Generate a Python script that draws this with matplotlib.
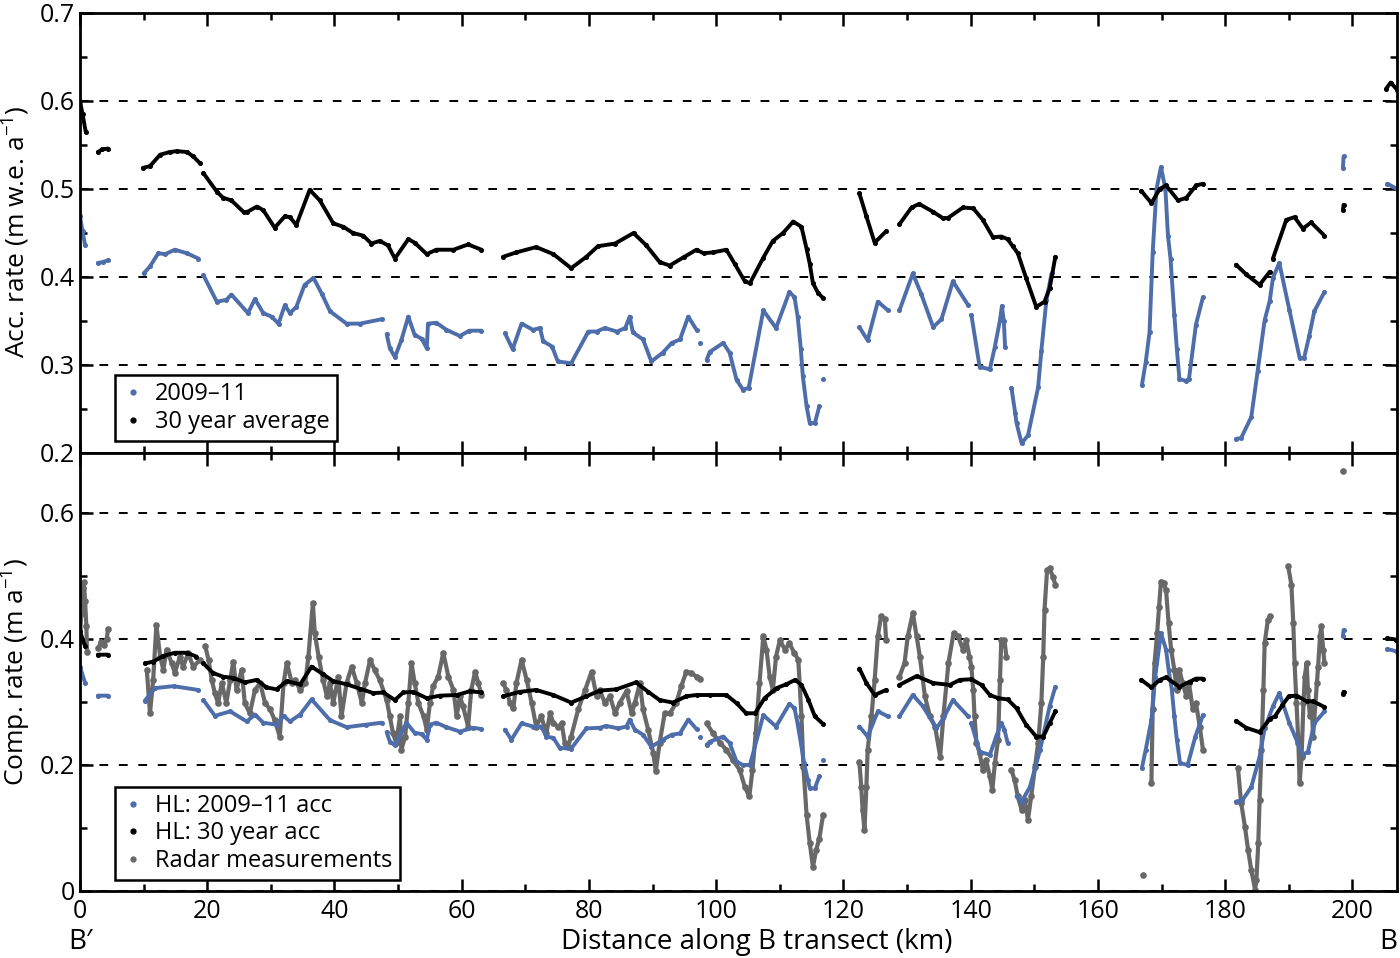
import numpy as np
import matplotlib
matplotlib.use("Agg")
import matplotlib.pyplot as plt
from matplotlib.ticker import MultipleLocator, FuncFormatter
from matplotlib.lines import Line2D

plt.rcParams['font.family'] = ['Open Sans', 'DejaVu Sans']
plt.rcParams['mathtext.fontset'] = 'custom'
plt.rcParams['mathtext.rm'] = 'Open Sans'
plt.rcParams['mathtext.it'] = 'Open Sans'

# ------------------------------------------------------------
# data: each series is a list of segments (x km, value)

acc_0911 = [
    [(0, 0.469), (0.4, 0.452), (0.8, 0.436)],
    [(2.8, 0.416), (3.6, 0.417), (4.4, 0.419)],
    [(10.0, 0.404), (11.0, 0.412), (12.3, 0.427), (13.4, 0.426), (14.9, 0.431), (16.8, 0.427), (18.6, 0.421)],
    [(19.4, 0.402), (21.5, 0.372), (23.0, 0.374), (23.8, 0.380), (26.4, 0.359), (27.5, 0.375), (28.8, 0.359),
     (30.1, 0.355), (31.2, 0.347), (32.2, 0.368), (33.0, 0.359), (34.0, 0.366), (35.3, 0.391), (36.7, 0.399),
     (38.0, 0.381), (39.3, 0.361), (41.9, 0.347), (44.0, 0.347), (47.4, 0.352)],
    [(48.2, 0.335), (48.7, 0.319), (49.5, 0.309), (50.5, 0.328), (51.6, 0.355), (52.6, 0.334), (53.7, 0.330),
     (54.5, 0.319), (54.7, 0.347), (56.0, 0.348), (57.6, 0.340), (59.7, 0.333), (61.2, 0.339), (63.1, 0.339)],
    [(66.8, 0.336), (68.0, 0.318), (69.4, 0.347), (71.2, 0.340), (72.3, 0.342), (72.8, 0.327), (74.2, 0.321),
     (75.1, 0.304), (77.2, 0.302), (79.9, 0.338), (81.2, 0.338), (82.5, 0.342), (84.4, 0.338), (85.7, 0.342),
     (86.4, 0.355), (86.9, 0.337), (88.5, 0.329), (89.8, 0.304), (91.6, 0.314), (93.0, 0.325), (94.3, 0.329),
     (95.6, 0.355), (96.9, 0.340)],
    [(97.4, 0.325)],
    [(98.5, 0.306), (99.0, 0.315), (101.1, 0.325), (102.1, 0.314), (103.2, 0.283), (104.2, 0.272),
     (105.1, 0.274), (107.4, 0.362), (109.4, 0.342), (111.5, 0.383), (112.3, 0.377), (112.8, 0.355),
     (113.3, 0.318), (113.6, 0.288), (114.2, 0.253), (114.7, 0.234), (115.5, 0.234), (116.2, 0.253)],
    [(116.8, 0.284)],
    [(122.5, 0.343), (123.8, 0.328), (125.4, 0.372), (127.0, 0.362)],
    [(128.8, 0.362), (130.9, 0.404), (132.2, 0.381), (134.1, 0.343), (135.4, 0.352), (137.2, 0.395), (139.6, 0.368)],
    [(140.1, 0.357), (141.4, 0.298), (143.0, 0.295), (143.8, 0.321), (144.6, 0.351), (144.9, 0.367),
     (145.2, 0.350), (145.4, 0.321)],
    [(146.4, 0.274), (147.0, 0.245), (147.2, 0.234), (148.0, 0.211), (149.0, 0.220), (150.6, 0.275),
     (151.1, 0.316), (151.9, 0.374), (152.7, 0.404)],
    [(166.9, 0.277), (167.5, 0.303), (168.1, 0.337), (168.6, 0.428), (169.2, 0.500), (169.9, 0.525),
     (170.6, 0.500), (171.0, 0.447), (171.4, 0.421), (172.0, 0.357), (172.4, 0.318), (172.8, 0.284),
     (173.8, 0.282), (174.3, 0.284), (175.4, 0.346), (176.5, 0.377)],
    [(181.7, 0.216), (182.5, 0.217), (184.1, 0.241), (185.1, 0.293), (186.2, 0.351), (187.0, 0.373),
     (187.5, 0.399), (188.5, 0.416), (190.1, 0.362), (191.7, 0.308), (192.4, 0.308), (193.2, 0.333),
     (194.0, 0.361), (195.6, 0.383)],
    [(198.5, 0.524), (198.6, 0.537)],
    [(205.5, 0.506), (207.0, 0.500)],
]

acc_30yr = [
    [(0, 0.600), (0.4, 0.585), (0.9, 0.565)],
    [(2.8, 0.542), (3.5, 0.545), (4.4, 0.546)],
    [(9.9, 0.524), (11.0, 0.526), (12.6, 0.539), (14.1, 0.542), (15.2, 0.543), (16.8, 0.542), (17.8, 0.537), (18.9, 0.529)],
    [(19.4, 0.518), (21.5, 0.497), (22.5, 0.490), (23.8, 0.487), (25.7, 0.474), (26.3, 0.474), (27.8, 0.480),
     (28.8, 0.476), (30.6, 0.456), (32.2, 0.469), (33.0, 0.468), (34.0, 0.459), (36.1, 0.499), (37.7, 0.487),
     (39.8, 0.461), (41.4, 0.457), (42.9, 0.450), (44.5, 0.447), (45.8, 0.438), (47.1, 0.441), (48.4, 0.436),
     (49.5, 0.421), (51.6, 0.443), (52.6, 0.439), (54.5, 0.426), (56.0, 0.431), (58.7, 0.431), (61.0, 0.437),
     (63.1, 0.431)],
    [(66.5, 0.423), (68.6, 0.428), (71.7, 0.434), (74.4, 0.426), (77.2, 0.410), (79.6, 0.423), (81.4, 0.435),
     (84.1, 0.438), (87.0, 0.450), (89.0, 0.436), (91.1, 0.417), (92.7, 0.413), (95.0, 0.423), (96.9, 0.431),
     (98.0, 0.427), (99.5, 0.428), (101.6, 0.431), (102.9, 0.415), (104.5, 0.395), (105.3, 0.393),
     (107.4, 0.422), (108.9, 0.441), (110.5, 0.450), (112.1, 0.463), (113.4, 0.457), (114.2, 0.432),
     (114.7, 0.415), (115.2, 0.393), (116.0, 0.382), (116.8, 0.376)],
    [(122.5, 0.495), (123.6, 0.469), (124.9, 0.439), (126.7, 0.452)],
    [(128.8, 0.460), (130.7, 0.479), (131.9, 0.483), (134.1, 0.474), (135.6, 0.467), (136.4, 0.467),
     (138.8, 0.479), (140.4, 0.478), (141.9, 0.465), (143.5, 0.445), (144.8, 0.446), (145.8, 0.443),
     (146.6, 0.435), (147.4, 0.427), (148.7, 0.399), (150.3, 0.366), (151.6, 0.372), (152.4, 0.387), (153.3, 0.423)],
    [(166.8, 0.498), (168.4, 0.484), (169.7, 0.500), (170.7, 0.504), (172.6, 0.487), (173.9, 0.490),
     (175.4, 0.504), (176.5, 0.506)],
    [(181.7, 0.414), (183.3, 0.403), (185.4, 0.391), (187.0, 0.406)],
    [(187.5, 0.421), (189.6, 0.465), (190.9, 0.468), (192.2, 0.455), (193.5, 0.462), (195.6, 0.447)],
    [(198.5, 0.476), (198.6, 0.482)],
    [(205.3, 0.614), (206.0, 0.621), (207.0, 0.613)],
]

comp_0911 = [
    [(0, 0.356), (0.8, 0.330)],
    [(2.8, 0.310), (4.4, 0.310)],
    [(10.2, 0.302), (11.8, 0.322), (14.7, 0.325), (18.6, 0.319)],
    [(19.4, 0.303), (21.2, 0.278), (23.6, 0.285), (26.2, 0.269), (27.5, 0.280), (28.8, 0.267), (30.9, 0.264),
     (32.0, 0.278), (33.0, 0.269), (34.6, 0.280), (36.4, 0.304), (39.3, 0.271), (41.9, 0.260), (45.0, 0.264),
     (47.4, 0.267)],
    [(48.2, 0.252), (48.7, 0.237), (49.5, 0.231), (51.3, 0.267), (52.6, 0.251), (53.7, 0.249), (54.5, 0.240),
     (55.0, 0.264), (56.0, 0.267), (57.6, 0.260), (59.7, 0.253), (61.8, 0.259), (63.1, 0.257)],
    [(66.8, 0.256), (67.8, 0.240), (69.4, 0.266), (71.2, 0.261), (72.5, 0.261), (73.3, 0.245), (74.4, 0.243),
     (75.4, 0.227), (77.2, 0.226), (79.6, 0.258), (81.7, 0.259), (82.7, 0.262), (84.6, 0.258), (85.9, 0.261),
     (86.4, 0.272), (87.2, 0.256), (88.5, 0.248), (89.8, 0.229), (91.6, 0.240), (93.0, 0.248), (94.3, 0.250),
     (95.6, 0.272), (96.9, 0.257)],
    [(97.4, 0.245)],
    [(98.5, 0.232), (99.0, 0.237), (101.1, 0.245), (102.1, 0.235), (103.2, 0.205), (104.2, 0.200),
     (105.3, 0.200), (107.4, 0.279), (109.4, 0.261), (111.5, 0.297), (112.3, 0.290), (112.8, 0.265),
     (113.3, 0.235), (113.8, 0.203), (114.4, 0.176), (114.7, 0.163), (115.5, 0.163), (116.2, 0.182)],
    [(116.8, 0.208)],
    [(122.5, 0.261), (123.8, 0.245), (125.4, 0.285), (127.0, 0.277)],
    [(128.8, 0.277), (130.9, 0.311), (132.5, 0.293), (134.6, 0.258), (135.7, 0.274), (137.2, 0.303), (139.6, 0.277)],
    [(140.1, 0.266), (141.4, 0.221), (143.0, 0.216), (144.0, 0.245), (144.8, 0.267), (145.3, 0.256), (145.8, 0.235)],
    [(147.2, 0.150), (148.0, 0.142), (149.3, 0.165), (150.9, 0.224), (151.6, 0.256), (152.4, 0.293), (153.3, 0.324)],
    [(166.9, 0.195), (167.5, 0.224), (168.4, 0.271), (169.0, 0.340), (169.9, 0.409), (170.7, 0.383),
     (171.1, 0.351), (171.6, 0.320), (172.0, 0.277), (172.4, 0.240), (172.9, 0.203), (174.1, 0.200),
     (175.3, 0.245), (176.5, 0.279)],
    [(181.7, 0.142), (182.7, 0.144), (184.1, 0.165), (185.4, 0.213), (186.2, 0.258), (187.5, 0.293),
     (188.5, 0.314), (190.1, 0.266), (192.2, 0.216), (193.0, 0.221), (194.0, 0.266), (195.6, 0.285)],
    [(198.5, 0.404), (198.6, 0.414)],
    [(205.5, 0.384), (207.0, 0.380)],
]

comp_30yr = [
    [(0, 0.412), (0.8, 0.388)],
    [(2.8, 0.375), (4.4, 0.375)],
    [(10.2, 0.361), (11.5, 0.364), (13.1, 0.373), (14.9, 0.378), (16.8, 0.378), (18.3, 0.372)],
    [(19.4, 0.361), (20.9, 0.346), (22.5, 0.340), (24.1, 0.338), (25.9, 0.331), (27.8, 0.335), (29.3, 0.323),
     (30.9, 0.320), (32.5, 0.333), (34.6, 0.328), (36.4, 0.356), (38.2, 0.344), (39.8, 0.333), (41.9, 0.328),
     (44.0, 0.321), (46.1, 0.314), (47.7, 0.315), (49.5, 0.303), (50.8, 0.315), (52.4, 0.316), (54.5, 0.306),
     (56.6, 0.310), (59.2, 0.311), (61.3, 0.317), (63.1, 0.315)],
    [(66.5, 0.309), (69.1, 0.316), (71.7, 0.319), (74.4, 0.311), (77.2, 0.299), (79.6, 0.309), (81.7, 0.318),
     (84.3, 0.320), (87.4, 0.331), (89.3, 0.316), (91.1, 0.303), (93.2, 0.299), (95.3, 0.309), (96.9, 0.311),
     (99.0, 0.311), (101.6, 0.311), (103.2, 0.298), (104.7, 0.282), (106.1, 0.282), (107.6, 0.306),
     (109.5, 0.322), (111.0, 0.328), (112.4, 0.335), (113.4, 0.327), (114.5, 0.303), (115.5, 0.277), (116.8, 0.265)],
    [(122.5, 0.353), (123.6, 0.330), (124.9, 0.311), (126.7, 0.319)],
    [(128.8, 0.327), (131.5, 0.341), (134.1, 0.330), (136.7, 0.327), (138.3, 0.335), (140.1, 0.336),
     (141.7, 0.327), (143.0, 0.311), (144.3, 0.306), (145.8, 0.304), (147.2, 0.290), (148.7, 0.264),
     (150.3, 0.245), (151.4, 0.245), (152.4, 0.266), (153.3, 0.285)],
    [(166.8, 0.335), (168.4, 0.323), (169.7, 0.335), (170.7, 0.339), (172.8, 0.324), (174.4, 0.332),
     (175.4, 0.337), (176.5, 0.337)],
    [(181.7, 0.270), (183.3, 0.259), (185.4, 0.252), (187.0, 0.273), (187.8, 0.277), (189.0, 0.295),
     (190.0, 0.309), (191.2, 0.310), (192.8, 0.301), (193.8, 0.301), (195.6, 0.292)],
    [(198.5, 0.313), (198.6, 0.316)],
    [(205.5, 0.401), (206.8, 0.399)],
]

radar = [
    [(0, 0.40), (0.2, 0.44), (0.4, 0.48), (0.6, 0.49), (0.8, 0.46), (1.0, 0.42), (1.1, 0.38)],
    [(2.9, 0.385), (3.3, 0.395), (3.8, 0.39), (4.2, 0.40), (4.4, 0.415)],
    [(10.5, 0.351), (11.0, 0.282), (11.5, 0.335), (12.0, 0.422), (12.6, 0.372), (13.1, 0.351), (13.6, 0.383),
     (14.4, 0.362), (14.9, 0.346), (15.7, 0.372), (16.2, 0.356), (17.0, 0.377), (17.8, 0.356), (18.9, 0.367)],
    [(19.7, 0.388), (20.2, 0.367), (20.7, 0.335), (21.2, 0.314), (21.7, 0.298), (22.3, 0.330), (23.0, 0.298),
     (23.6, 0.335), (24.1, 0.364), (24.6, 0.319), (25.4, 0.351), (25.9, 0.298), (26.7, 0.282), (27.5, 0.319),
     (28.3, 0.330), (29.1, 0.298), (29.9, 0.288), (30.6, 0.271), (31.4, 0.245), (32.0, 0.330), (32.5, 0.362),
     (33.3, 0.330), (33.8, 0.335), (34.6, 0.319), (35.4, 0.330), (35.9, 0.372), (36.6, 0.457), (36.9, 0.409),
     (37.5, 0.372), (38.2, 0.335), (38.8, 0.309), (39.3, 0.330), (39.8, 0.298), (40.6, 0.340), (41.1, 0.277),
     (41.9, 0.330), (42.7, 0.356), (43.5, 0.330), (44.3, 0.298), (44.8, 0.330), (45.6, 0.367), (46.3, 0.351),
     (47.1, 0.335), (48.2, 0.303), (48.7, 0.277), (49.2, 0.250), (49.7, 0.235), (50.3, 0.277), (50.5, 0.224),
     (51.1, 0.245), (51.6, 0.298), (52.1, 0.362), (52.6, 0.330), (53.2, 0.298), (54.0, 0.277), (54.5, 0.256),
     (55.0, 0.298), (55.5, 0.325), (56.3, 0.340), (57.1, 0.378), (57.9, 0.340), (58.7, 0.319), (59.2, 0.277),
     (59.7, 0.309), (60.2, 0.293), (61.0, 0.261), (61.5, 0.319), (62.1, 0.348), (62.6, 0.330), (63.1, 0.311)],
    [(66.5, 0.330), (67.0, 0.319), (67.6, 0.298), (68.1, 0.290), (68.6, 0.330), (69.4, 0.367), (70.2, 0.335),
     (71.0, 0.298), (71.7, 0.261), (72.5, 0.277), (73.3, 0.250), (73.9, 0.282), (74.4, 0.266), (75.2, 0.261),
     (75.7, 0.266), (76.2, 0.235), (76.7, 0.229), (77.2, 0.245), (78.3, 0.288), (79.4, 0.319), (80.4, 0.348),
     (81.2, 0.309), (81.7, 0.319), (82.5, 0.298), (83.3, 0.309), (84.1, 0.282), (84.8, 0.298), (85.9, 0.317),
     (86.7, 0.282), (87.2, 0.298), (88.0, 0.330), (88.5, 0.288), (89.3, 0.256), (90.1, 0.219), (90.5, 0.190),
     (91.1, 0.235), (91.9, 0.282), (92.7, 0.282), (93.7, 0.298), (94.5, 0.325), (95.3, 0.348), (96.1, 0.346),
     (96.9, 0.340), (97.4, 0.337)],
    [(98.5, 0.266), (99.5, 0.250), (100.6, 0.235), (101.6, 0.224), (102.6, 0.208), (103.7, 0.192),
     (104.5, 0.165), (105.2, 0.150), (105.7, 0.192), (106.2, 0.250), (106.8, 0.330), (107.4, 0.404),
     (107.9, 0.383), (108.4, 0.340), (108.9, 0.319), (109.4, 0.372), (110.0, 0.398), (110.8, 0.383),
     (111.5, 0.393), (112.3, 0.377), (112.9, 0.367), (113.4, 0.277), (113.7, 0.197), (114.2, 0.121),
     (114.7, 0.076), (115.2, 0.038), (115.7, 0.065), (116.2, 0.083), (116.8, 0.121)],
    [(122.5, 0.205), (122.8, 0.165), (123.0, 0.129), (123.3, 0.097), (123.6, 0.165), (123.8, 0.224),
     (124.4, 0.277), (124.9, 0.335), (125.4, 0.404), (125.9, 0.436), (126.5, 0.431), (126.7, 0.398)],
    [(128.8, 0.340), (129.6, 0.362), (130.1, 0.404), (130.9, 0.441), (131.5, 0.404), (132.0, 0.372),
     (132.8, 0.309), (133.6, 0.277), (134.4, 0.261), (135.2, 0.213), (135.7, 0.277), (136.5, 0.362),
     (137.3, 0.409), (138.0, 0.404), (138.8, 0.383), (139.3, 0.398), (139.8, 0.372), (140.1, 0.356),
     (140.4, 0.319), (140.6, 0.277), (140.9, 0.235), (141.4, 0.219), (141.9, 0.192), (142.4, 0.208),
     (143.0, 0.182), (143.4, 0.160), (143.8, 0.203), (144.3, 0.240), (144.6, 0.335), (144.8, 0.398),
     (145.3, 0.398), (145.6, 0.372)],
    [(146.4, 0.192), (146.9, 0.176), (147.4, 0.150), (148.0, 0.129), (148.5, 0.144), (149.0, 0.113),
     (149.5, 0.150), (150.1, 0.197), (150.6, 0.235), (151.1, 0.298), (151.4, 0.372), (151.6, 0.446),
     (152.0, 0.509), (152.4, 0.512), (152.9, 0.499), (153.3, 0.486)],
    [(167.0, 0.025)],
    [(168.4, 0.171), (168.6, 0.288), (168.9, 0.362), (169.3, 0.409), (169.6, 0.451), (169.9, 0.491),
     (170.3, 0.488), (170.7, 0.478), (171.1, 0.425), (171.5, 0.383), (172.0, 0.351), (172.4, 0.319),
     (172.8, 0.351), (173.3, 0.330), (173.9, 0.309), (174.3, 0.330), (174.9, 0.288), (175.4, 0.298),
     (176.0, 0.261), (176.5, 0.224)],
    [(182.0, 0.195), (182.5, 0.140), (183.1, 0.102), (183.6, 0.065), (184.1, 0.033), (184.7, 0.002),
     (184.9, 0.018), (185.2, 0.076), (185.4, 0.144), (185.7, 0.224), (186.0, 0.319), (186.2, 0.393),
     (186.7, 0.430), (187.1, 0.436)],
    [(189.9, 0.515), (190.4, 0.486), (190.7, 0.425), (190.9, 0.362), (191.2, 0.298), (191.5, 0.235),
     (191.7, 0.171), (192.0, 0.213), (192.3, 0.298), (192.5, 0.340), (192.8, 0.362), (193.0, 0.319),
     (193.3, 0.277), (193.6, 0.298), (193.8, 0.245), (194.4, 0.330), (194.6, 0.356), (194.9, 0.404),
     (195.1, 0.420), (195.4, 0.383), (195.6, 0.362)],
    [(198.5, 0.666)],
]

blue = '#4e6dab'
grey = '#686868'


def join(segments):
    xs, ys = [], []
    for seg in segments:
        xs += [p[0] for p in seg] + [np.nan]
        ys += [p[1] for p in seg] + [np.nan]
    return np.array(xs), np.array(ys)


fig = plt.figure(figsize=(14, 9.58), dpi=100)
ax1 = fig.add_axes([80 / 1400, 1 - 453 / 958, 1317 / 1400, 440 / 958])
ax2 = fig.add_axes([80 / 1400, 1 - 891 / 958, 1317 / 1400, 438 / 958])

# top panel
x, y = join(acc_0911)
ax1.plot(x, y, color=blue, lw=2.8, marker='o', ms=2.6, solid_capstyle='round')
x, y = join(acc_30yr)
ax1.plot(x, y, color='black', lw=2.8, marker='o', ms=2.6, solid_capstyle='round')

# bottom panel
x, y = join(radar)
ax2.plot(x, y, color=grey, lw=3.0, marker='o', ms=4.8, markeredgewidth=0, solid_capstyle='round')
x, y = join(comp_0911)
ax2.plot(x, y, color=blue, lw=2.8, marker='o', ms=2.6, solid_capstyle='round')
x, y = join(comp_30yr)
ax2.plot(x, y, color='black', lw=2.8, marker='o', ms=2.6, solid_capstyle='round')

ax1.set_ylim(0.2, 0.7)
ax2.set_ylim(0, 0.695)

for ax in (ax1, ax2):
    ax.set_xlim(0, 207)
    ax.xaxis.set_major_locator(MultipleLocator(20))
    ax.xaxis.set_minor_locator(MultipleLocator(10))
    ax.tick_params(which='both', direction='in', top=True, right=True, width=1.8)
    ax.tick_params(which='major', length=9, labelsize=18)
    ax.tick_params(which='minor', length=5)
    ax.yaxis.grid(True, which='major', color='black', lw=1.4, ls=(0, (4.5, 5.5)))
    ax.set_axisbelow(True)
    for s in ax.spines.values():
        s.set_linewidth(2)

ax1.yaxis.set_major_locator(MultipleLocator(0.1))
ax1.yaxis.set_minor_locator(MultipleLocator(0.05))
ax1.yaxis.set_major_formatter(FuncFormatter(lambda v, p: f'{v:.1f}'))
ax1.tick_params(labelbottom=False)

ax2.yaxis.set_major_locator(MultipleLocator(0.2))
ax2.yaxis.set_minor_locator(MultipleLocator(0.1))
ax2.yaxis.set_major_formatter(FuncFormatter(lambda v, p: '0' if abs(v) < 1e-9 else f'{v:.1f}'))
ax2.tick_params(axis='x', pad=6)

fig.text(16 / 1400, 1 - 232 / 958, 'Acc. rate (m w.e. a$^{-1}$)', rotation=90,
         ha='center', va='center', fontsize=19)
fig.text(16 / 1400, 1 - 672 / 958, 'Comp. rate (m a$^{-1}$)', rotation=90,
         ha='center', va='center', fontsize=19)
fig.text(757 / 1400, 1 - 942 / 958, 'Distance along B transect (km)', ha='center', va='center', fontsize=20)
fig.text(80 / 1400, 1 - 942 / 958, 'B\u2032', ha='center', va='center', fontsize=20)
fig.text(1388 / 1400, 1 - 942 / 958, 'B', ha='center', va='center', fontsize=20)

# legends
h1 = [Line2D([], [], ls='none', marker='.', ms=7, color=blue),
      Line2D([], [], ls='none', marker='.', ms=7, color='black')]
leg1 = ax1.legend(h1, ['2009\u201311', '30 year average'], loc='lower left',
                  bbox_to_anchor=(0.0266, 0.027), borderaxespad=0, fontsize=17,
                  handlelength=0.9, handletextpad=0.5, labelspacing=0.15,
                  borderpad=0.3, fancybox=False, framealpha=1, edgecolor='black')
leg1.get_frame().set_linewidth(1.8)

h2 = [Line2D([], [], ls='none', marker='.', ms=7, color=blue),
      Line2D([], [], ls='none', marker='.', ms=7, color='black'),
      Line2D([], [], ls='none', marker='.', ms=7, color=grey)]
leg2 = ax2.legend(h2, ['HL: 2009\u201311 acc', 'HL: 30 year acc', 'Radar measurements'],
                  loc='lower left', bbox_to_anchor=(0.0266, 0.025), borderaxespad=0, fontsize=17,
                  handlelength=0.9, handletextpad=0.5, labelspacing=0.15,
                  borderpad=0.3, fancybox=False, framealpha=1, edgecolor='black')
leg2.get_frame().set_linewidth(1.8)

fig.savefig('out.png', dpi=100)
